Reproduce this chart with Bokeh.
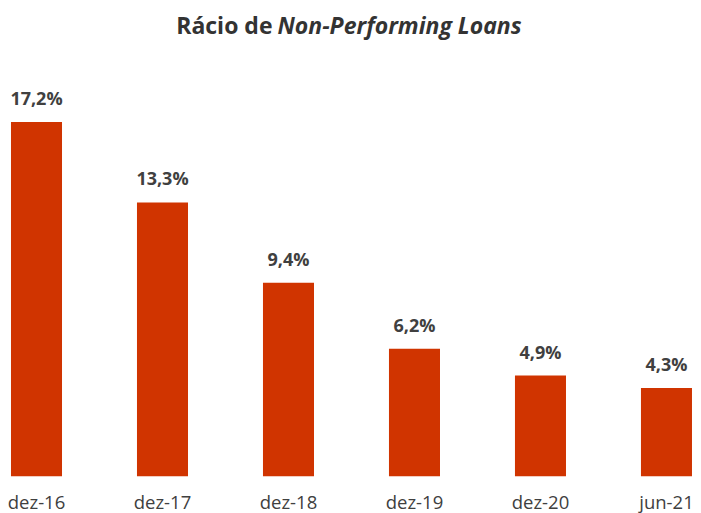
from bokeh.plotting import figure
from bokeh.models import ColumnDataSource, FixedTicker, Range1d, Label
from bokeh.core.properties import value
from bokeh.embed import file_html
from bokeh.resources import INLINE

categories = ["dez-16", "dez-17", "dez-18", "dez-19", "dez-20", "jun-21"]
npl_ratio = [17.2, 13.3, 9.4, 6.2, 4.9, 4.3]
value_labels = ["17,2%", "13,3%", "9,4%", "6,2%", "4,9%", "4,3%"]

positions = list(range(len(categories)))
src = ColumnDataSource(dict(x=positions, top=npl_ratio, lbl=value_labels))

FONT = "Open Sans"
TXT = "#404040"

p = figure(frame_width=701, frame_height=476, output_backend="svg", toolbar_location=None,
           x_range=Range1d(-0.2857, 5.278), y_range=Range1d(0, 23.1),
           min_border_left=0, min_border_right=0, min_border_top=0, min_border_bottom=0)
p.outline_line_color = None
p.grid.visible = False
p.yaxis.visible = False
p.background_fill_color = "white"
p.border_fill_color = "white"

p.vbar(x="x", top="top", bottom=0, width=0.405, source=src,
       fill_color="#D03400", line_color=None)

p.text(x="x", y="top", text="lbl", source=src, text_align="center",
       text_baseline="alphabetic", y_offset=-24, text_font=value(FONT),
       text_font_style="bold", text_font_size="18px", text_color=TXT)

ax = p.xaxis[0]
ax.ticker = FixedTicker(ticks=positions)
ax.major_label_overrides = {i: c for i, c in zip(positions, categories)}
ax.axis_line_color = None
ax.major_tick_line_color = None
ax.minor_tick_line_color = None
ax.major_tick_out = 0
ax.major_tick_in = 0
ax.major_label_standoff = 12
ax.major_label_text_line_height = 0.8
ax.major_label_text_font = FONT
ax.major_label_text_font_size = "18.5px"
ax.major_label_text_color = TXT

t1 = Label(x=272, y=452, x_units="screen", y_units="screen", text="Rácio de",
           text_align="right", text_baseline="alphabetic", text_font=FONT,
           text_font_style="bold", text_font_size="23px", text_color="#333333")
t2 = Label(x=277, y=452, x_units="screen", y_units="screen", text="Non-Performing Loans",
           text_align="left", text_baseline="alphabetic", text_font=FONT,
           text_font_style="bold italic", text_font_size="23px", text_color="#333333")
p.add_layout(t1)
p.add_layout(t2)

open("out.html", "w").write(file_html(p, INLINE))
